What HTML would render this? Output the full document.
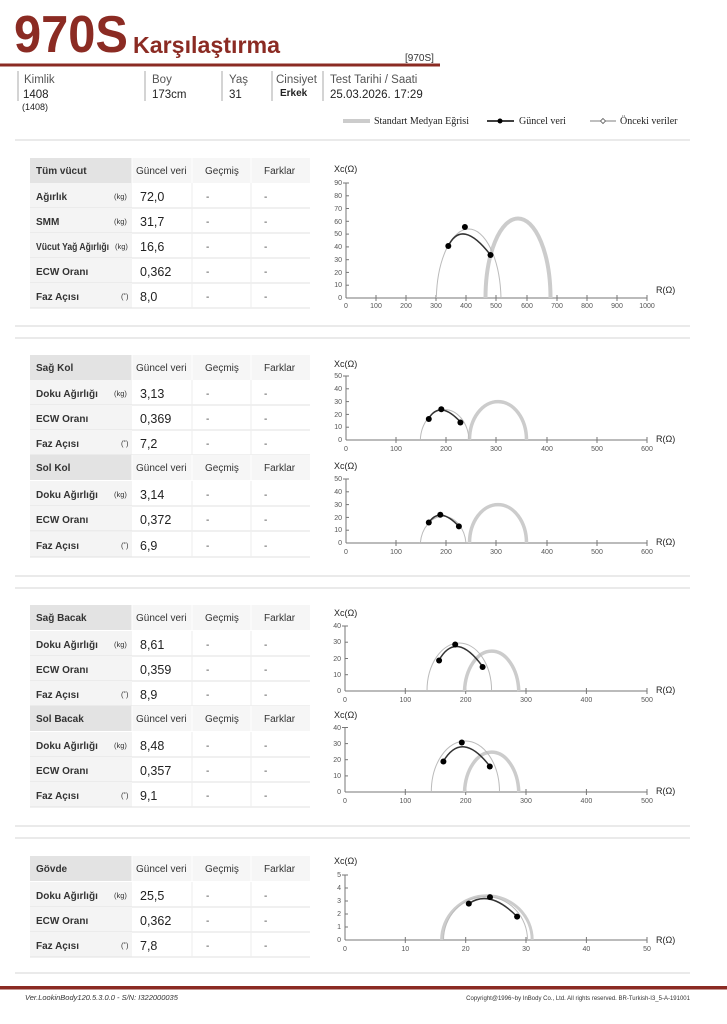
<!DOCTYPE html>
<html><head><meta charset="utf-8"><style>
html,body{margin:0;padding:0;background:#fff}
svg{display:block;font-family:"Liberation Sans",sans-serif}
.lb{font-size:10px;font-weight:bold;fill:#333}
.hd{font-size:10px;fill:#333}
.un{font-size:7.5px;fill:#333}
.vl{font-size:12.5px;fill:#222}
.ds{font-size:10px;fill:#444}
.tk{font-size:7px;fill:#555}
.ax{font-size:9px;fill:#222}
</style></head><body>
<svg width="727" height="1024" viewBox="0 0 727 1024" xmlns="http://www.w3.org/2000/svg">
<defs>
<g id="hdr">
<rect x="30" y="0" width="102" height="25" fill="#e3e3e3"/>
<rect x="132" y="0" width="178" height="25" fill="#f6f6f6"/>
<line x1="132" y1="0" x2="132" y2="25" stroke="#fff"/>
<line x1="192" y1="0" x2="192" y2="25" stroke="#fff"/>
<line x1="251" y1="0" x2="251" y2="25" stroke="#fff"/>
<text x="136" y="16" class="hd">Güncel veri</text>
<text x="205" y="16" class="hd">Geçmiş</text>
<text x="264" y="16" class="hd">Farklar</text>
</g>
<g id="row">
<rect x="30" y="0" width="102" height="25" fill="#f4f4f4"/>
<line x1="30" y1="25" x2="310" y2="25" stroke="#e2e2e2"/>
<line x1="192" y1="0" x2="192" y2="25" stroke="#eee"/>
<line x1="251" y1="0" x2="251" y2="25" stroke="#eee"/>
<text x="206" y="17" class="ds">-</text>
<text x="264" y="17" class="ds">-</text>
</g>
</defs>

<!-- header -->
<text x="14" y="52" font-size="52" font-weight="bold" fill="#8b2b23" textLength="114" lengthAdjust="spacingAndGlyphs">970S</text>
<text x="133" y="53" font-size="23" font-weight="bold" fill="#8b2b23" textLength="147" lengthAdjust="spacingAndGlyphs">Karşılaştırma</text>
<text x="405" y="61" font-size="10" fill="#333">[970S]</text>
<rect x="0" y="63.5" width="440" height="3" fill="#8b2b23"/>
<g stroke="#aaa" stroke-width="1">
<line x1="18" y1="71" x2="18" y2="101"/><line x1="145" y1="71" x2="145" y2="101"/>
<line x1="222" y1="71" x2="222" y2="101"/><line x1="272" y1="71" x2="272" y2="101"/>
<line x1="323" y1="71" x2="323" y2="101"/>
</g>
<g font-size="11.5" fill="#555">
<text x="24" y="83">Kimlik</text><text x="152" y="83">Boy</text><text x="229" y="83">Yaş</text>
<text x="276" y="83">Cinsiyet</text><text x="330" y="83">Test Tarihi / Saati</text>
</g>
<g font-size="11.5" fill="#222">
<text x="23" y="98">1408</text><text x="152" y="98">173cm</text><text x="229" y="98">31</text>
<text x="330" y="98">25.03.2026. 17:29</text>
</g>
<text x="280" y="96" font-size="10" font-weight="bold" fill="#222">Erkek</text>
<text x="22" y="110" font-size="9" fill="#222">(1408)</text>
<!-- legend -->
<line x1="343" y1="121" x2="370" y2="121" stroke="#ccc" stroke-width="4"/>
<text x="374" y="124" font-family="Liberation Serif" font-size="10" fill="#222">Standart Medyan Eğrisi</text>
<line x1="487" y1="121" x2="514" y2="121" stroke="#000" stroke-width="1.5"/>
<circle cx="500" cy="121" r="2.5" fill="#000"/>
<text x="519" y="124" font-family="Liberation Serif" font-size="10" fill="#222">Güncel veri</text>
<line x1="590" y1="121" x2="616" y2="121" stroke="#555" stroke-width="0.8"/>
<path d="M603,118.5 L605.5,121 L603,123.5 L600.5,121Z" fill="#fff" stroke="#555" stroke-width="0.8"/>
<text x="620" y="124" font-family="Liberation Serif" font-size="10" fill="#222">Önceki veriler</text>

<g stroke="#d6d6d6" stroke-width="1">
<line x1="15" y1="140" x2="690" y2="140"/>
<line x1="15" y1="326" x2="690" y2="326"/><line x1="15" y1="338" x2="690" y2="338"/>
<line x1="15" y1="576" x2="690" y2="576"/><line x1="15" y1="588" x2="690" y2="588"/>
<line x1="15" y1="826" x2="690" y2="826"/><line x1="15" y1="838" x2="690" y2="838"/>
<line x1="15" y1="973" x2="690" y2="973"/>
</g>
<rect x="0" y="986" width="727" height="3.5" fill="#8b2b23"/>
<text x="25" y="1000" font-size="7.5" font-style="italic" fill="#333">Ver.LookinBody120.5.3.0.0 - S/N: I322000035</text>
<text x="690" y="1000" font-size="6" fill="#333" text-anchor="end">Copyright@1996~by InBody Co., Ltd. All rights reserved. BR-Turkish-I3_5-A-191001</text>

<!-- TABLE 1 -->
<use href="#hdr" y="158"/><text x="36" y="174" class="lb">Tüm vücut</text>
<use href="#row" y="183"/><text x="36" y="200" class="lb">Ağırlık</text><text x="114" y="199" class="un">(kg)</text><text x="140" y="201" class="vl">72,0</text>
<use href="#row" y="208"/><text x="36" y="225" class="lb">SMM</text><text x="114" y="224" class="un">(kg)</text><text x="140" y="226" class="vl">31,7</text>
<use href="#row" y="233"/><text x="36" y="250" class="lb" textLength="73" lengthAdjust="spacingAndGlyphs">Vücut Yağ Ağırlığı</text><text x="115" y="249" class="un">(kg)</text><text x="140" y="251" class="vl">16,6</text>
<use href="#row" y="258"/><text x="36" y="275" class="lb">ECW Oranı</text><text x="140" y="276" class="vl">0,362</text>
<use href="#row" y="283"/><text x="36" y="300" class="lb">Faz Açısı</text><text x="121" y="299" class="un">(˚)</text><text x="140" y="301" class="vl">8,0</text>

<!-- TABLE arms -->
<use href="#hdr" y="355"/><text x="36" y="371" class="lb">Sağ Kol</text>
<use href="#row" y="380"/><text x="36" y="397" class="lb">Doku Ağırlığı</text><text x="114" y="396" class="un">(kg)</text><text x="140" y="398" class="vl">3,13</text>
<use href="#row" y="405"/><text x="36" y="422" class="lb">ECW Oranı</text><text x="140" y="423" class="vl">0,369</text>
<use href="#row" y="430"/><text x="36" y="447" class="lb">Faz Açısı</text><text x="121" y="446" class="un">(˚)</text><text x="140" y="448" class="vl">7,2</text>
<use href="#hdr" y="455"/><text x="36" y="471" class="lb">Sol Kol</text>
<use href="#row" y="481"/><text x="36" y="498" class="lb">Doku Ağırlığı</text><text x="114" y="497" class="un">(kg)</text><text x="140" y="499" class="vl">3,14</text>
<use href="#row" y="506"/><text x="36" y="523" class="lb">ECW Oranı</text><text x="140" y="524" class="vl">0,372</text>
<use href="#row" y="532"/><text x="36" y="549" class="lb">Faz Açısı</text><text x="121" y="548" class="un">(˚)</text><text x="140" y="550" class="vl">6,9</text>

<!-- TABLE legs -->
<use href="#hdr" y="605"/><text x="36" y="621" class="lb">Sağ Bacak</text>
<use href="#row" y="631"/><text x="36" y="648" class="lb">Doku Ağırlığı</text><text x="114" y="647" class="un">(kg)</text><text x="140" y="649" class="vl">8,61</text>
<use href="#row" y="656"/><text x="36" y="673" class="lb">ECW Oranı</text><text x="140" y="674" class="vl">0,359</text>
<use href="#row" y="681"/><text x="36" y="698" class="lb">Faz Açısı</text><text x="121" y="697" class="un">(˚)</text><text x="140" y="699" class="vl">8,9</text>
<use href="#hdr" y="706"/><text x="36" y="722" class="lb">Sol Bacak</text>
<use href="#row" y="732"/><text x="36" y="749" class="lb">Doku Ağırlığı</text><text x="114" y="748" class="un">(kg)</text><text x="140" y="750" class="vl">8,48</text>
<use href="#row" y="757"/><text x="36" y="774" class="lb">ECW Oranı</text><text x="140" y="775" class="vl">0,357</text>
<use href="#row" y="782"/><text x="36" y="799" class="lb">Faz Açısı</text><text x="121" y="798" class="un">(˚)</text><text x="140" y="800" class="vl">9,1</text>

<!-- TABLE trunk -->
<use href="#hdr" y="856"/><text x="36" y="872" class="lb">Gövde</text>
<use href="#row" y="882"/><text x="36" y="899" class="lb">Doku Ağırlığı</text><text x="114" y="898" class="un">(kg)</text><text x="140" y="900" class="vl">25,5</text>
<use href="#row" y="907"/><text x="36" y="924" class="lb">ECW Oranı</text><text x="140" y="925" class="vl">0,362</text>
<use href="#row" y="932"/><text x="36" y="949" class="lb">Faz Açısı</text><text x="121" y="948" class="un">(˚)</text><text x="140" y="950" class="vl">7,8</text>

<!-- CHART 1 -->
<g>
<text x="334" y="172" class="ax">Xc(Ω)</text>
<text x="656" y="293" class="ax">R(Ω)</text>
<line x1="346" y1="183" x2="346" y2="298" stroke="#777"/>
<line x1="346" y1="298" x2="647" y2="298" stroke="#777"/>
<g stroke="#777">
<line x1="346" y1="285.2" x2="349" y2="285.2"/><line x1="346" y1="272.4" x2="349" y2="272.4"/><line x1="346" y1="259.7" x2="349" y2="259.7"/><line x1="346" y1="246.9" x2="349" y2="246.9"/><line x1="346" y1="234.1" x2="349" y2="234.1"/><line x1="346" y1="221.3" x2="349" y2="221.3"/><line x1="346" y1="208.5" x2="349" y2="208.5"/><line x1="346" y1="195.8" x2="349" y2="195.8"/><line x1="343" y1="183" x2="349" y2="183"/>
<line x1="376" y1="295" x2="376" y2="301"/><line x1="406" y1="295" x2="406" y2="301"/><line x1="436" y1="295" x2="436" y2="301"/><line x1="466" y1="295" x2="466" y2="301"/><line x1="496" y1="295" x2="496" y2="301"/><line x1="527" y1="295" x2="527" y2="301"/><line x1="557" y1="295" x2="557" y2="301"/><line x1="587" y1="295" x2="587" y2="301"/><line x1="617" y1="295" x2="617" y2="301"/><line x1="647" y1="295" x2="647" y2="301"/>
</g>
<g class="tk" text-anchor="end">
<text x="342" y="300">0</text><text x="342" y="287">10</text><text x="342" y="275">20</text><text x="342" y="262">30</text><text x="342" y="249">40</text><text x="342" y="236">50</text><text x="342" y="224">60</text><text x="342" y="211">70</text><text x="342" y="198">80</text><text x="342" y="185">90</text>
</g>
<g class="tk" text-anchor="middle">
<text x="346" y="308">0</text><text x="376" y="308">100</text><text x="406" y="308">200</text><text x="436" y="308">300</text><text x="466" y="308">400</text><text x="496" y="308">500</text><text x="527" y="308">600</text><text x="557" y="308">700</text><text x="587" y="308">800</text><text x="617" y="308">900</text><text x="647" y="308">1000</text>
</g>
<path d="M485.5,298 A32.5,79.5 0 0 1 550.5,298" fill="none" stroke="#ccc" stroke-width="4"/>
<path d="M436.3,298 A32.4,73 0 0 1 501,298" fill="none" stroke="#bbb" stroke-width="1"/>
<path d="M448.3,246 Q462,218 490.5,255" fill="none" stroke="#333" stroke-width="1.5"/>
<circle cx="448.3" cy="246" r="3" fill="#000"/><circle cx="464.9" cy="227" r="3" fill="#000"/><circle cx="490.5" cy="255" r="3" fill="#000"/>
</g>

<!-- CHART Sağ Kol -->
<g>
<text x="334" y="367" class="ax">Xc(Ω)</text>
<text x="656" y="442" class="ax">R(Ω)</text>
<line x1="346" y1="376" x2="346" y2="440" stroke="#777"/>
<line x1="346" y1="440" x2="647" y2="440" stroke="#777"/>
<g stroke="#777">
<line x1="343" y1="376" x2="349" y2="376"/><line x1="346" y1="388.8" x2="349" y2="388.8"/><line x1="346" y1="401.6" x2="349" y2="401.6"/><line x1="346" y1="414.4" x2="349" y2="414.4"/><line x1="346" y1="427.2" x2="349" y2="427.2"/>
<line x1="396" y1="437" x2="396" y2="443"/><line x1="446" y1="437" x2="446" y2="443"/><line x1="496" y1="437" x2="496" y2="443"/><line x1="547" y1="437" x2="547" y2="443"/><line x1="597" y1="437" x2="597" y2="443"/><line x1="647" y1="437" x2="647" y2="443"/>
</g>
<g class="tk" text-anchor="end">
<text x="342" y="442">0</text><text x="342" y="429">10</text><text x="342" y="417">20</text><text x="342" y="404">30</text><text x="342" y="391">40</text><text x="342" y="378">50</text>
</g>
<g class="tk" text-anchor="middle">
<text x="346" y="451">0</text><text x="396" y="451">100</text><text x="446" y="451">200</text><text x="496" y="451">300</text><text x="547" y="451">400</text><text x="597" y="451">500</text><text x="647" y="451">600</text>
</g>
<path d="M469.5,440 A28.5,38.4 0 0 1 526.5,440" fill="none" stroke="#ccc" stroke-width="3.5"/>
<path d="M420.3,440 A24.4,32.5 0 0 1 469,440" fill="none" stroke="#bbb" stroke-width="1"/>
<path d="M428.8,418.2 Q440,400 460.4,422" fill="none" stroke="#333" stroke-width="1.5"/>
<circle cx="428.8" cy="419" r="3" fill="#000"/><circle cx="441.3" cy="409.3" r="3" fill="#000"/><circle cx="460.4" cy="422.5" r="3" fill="#000"/>
</g>

<!-- CHART Sol Kol -->
<g>
<text x="334" y="469" class="ax">Xc(Ω)</text>
<text x="656" y="545" class="ax">R(Ω)</text>
<line x1="346" y1="479" x2="346" y2="543" stroke="#777"/>
<line x1="346" y1="543" x2="647" y2="543" stroke="#777"/>
<g stroke="#777">
<line x1="343" y1="479" x2="349" y2="479"/><line x1="346" y1="491.8" x2="349" y2="491.8"/><line x1="346" y1="504.6" x2="349" y2="504.6"/><line x1="346" y1="517.4" x2="349" y2="517.4"/><line x1="346" y1="530.2" x2="349" y2="530.2"/>
<line x1="396" y1="540" x2="396" y2="546"/><line x1="446" y1="540" x2="446" y2="546"/><line x1="496" y1="540" x2="496" y2="546"/><line x1="547" y1="540" x2="547" y2="546"/><line x1="597" y1="540" x2="597" y2="546"/><line x1="647" y1="540" x2="647" y2="546"/>
</g>
<g class="tk" text-anchor="end">
<text x="342" y="545">0</text><text x="342" y="532">10</text><text x="342" y="520">20</text><text x="342" y="507">30</text><text x="342" y="494">40</text><text x="342" y="481">50</text>
</g>
<g class="tk" text-anchor="middle">
<text x="346" y="554">0</text><text x="396" y="554">100</text><text x="446" y="554">200</text><text x="496" y="554">300</text><text x="547" y="554">400</text><text x="597" y="554">500</text><text x="647" y="554">600</text>
</g>
<path d="M469.5,543 A28.5,38.4 0 0 1 526.5,543" fill="none" stroke="#ccc" stroke-width="3.5"/>
<path d="M420.3,543 A23,30 0 0 1 466,543" fill="none" stroke="#bbb" stroke-width="1"/>
<path d="M428.8,522.5 Q440,506 458.9,526.4" fill="none" stroke="#333" stroke-width="1.5"/>
<circle cx="428.8" cy="522.5" r="3" fill="#000"/><circle cx="440.3" cy="514.8" r="3" fill="#000"/><circle cx="458.9" cy="526.4" r="3" fill="#000"/>
</g>

<!-- CHART Sağ Bacak -->
<g>
<text x="334" y="616" class="ax">Xc(Ω)</text>
<text x="656" y="693" class="ax">R(Ω)</text>
<line x1="345" y1="626" x2="345" y2="691" stroke="#777"/>
<line x1="345" y1="691" x2="647" y2="691" stroke="#777"/>
<g stroke="#777">
<line x1="342" y1="626" x2="348" y2="626"/><line x1="345" y1="642.2" x2="348" y2="642.2"/><line x1="345" y1="658.5" x2="348" y2="658.5"/><line x1="345" y1="674.7" x2="348" y2="674.7"/>
<line x1="405.3" y1="688" x2="405.3" y2="694"/><line x1="465.7" y1="688" x2="465.7" y2="694"/><line x1="526" y1="688" x2="526" y2="694"/><line x1="586.4" y1="688" x2="586.4" y2="694"/><line x1="647" y1="688" x2="647" y2="694"/>
</g>
<g class="tk" text-anchor="end">
<text x="341" y="693">0</text><text x="341" y="677">10</text><text x="341" y="661">20</text><text x="341" y="644">30</text><text x="341" y="628">40</text>
</g>
<g class="tk" text-anchor="middle">
<text x="345" y="702">0</text><text x="405.3" y="702">100</text><text x="465.7" y="702">200</text><text x="526" y="702">300</text><text x="586.4" y="702">400</text><text x="647" y="702">500</text>
</g>
<path d="M464.5,691 A27.2,42.4 0 0 1 518.8,691" fill="none" stroke="#ccc" stroke-width="3.5"/>
<path d="M427,691 A32.3,48 0 0 1 491.6,691" fill="none" stroke="#bbb" stroke-width="1"/>
<path d="M439.1,660 Q456,630 482.6,666.5" fill="none" stroke="#333" stroke-width="1.5"/>
<circle cx="439.1" cy="660.5" r="3" fill="#000"/><circle cx="455.2" cy="644.5" r="3" fill="#000"/><circle cx="482.6" cy="667" r="3" fill="#000"/>
</g>

<!-- CHART Sol Bacak -->
<g>
<text x="334" y="718" class="ax">Xc(Ω)</text>
<text x="656" y="794" class="ax">R(Ω)</text>
<line x1="345" y1="727.5" x2="345" y2="792" stroke="#777"/>
<line x1="345" y1="792" x2="647" y2="792" stroke="#777"/>
<g stroke="#777">
<line x1="342" y1="727.5" x2="348" y2="727.5"/><line x1="345" y1="743.6" x2="348" y2="743.6"/><line x1="345" y1="759.7" x2="348" y2="759.7"/><line x1="345" y1="775.9" x2="348" y2="775.9"/>
<line x1="405.3" y1="789" x2="405.3" y2="795"/><line x1="465.7" y1="789" x2="465.7" y2="795"/><line x1="526" y1="789" x2="526" y2="795"/><line x1="586.4" y1="789" x2="586.4" y2="795"/><line x1="647" y1="789" x2="647" y2="795"/>
</g>
<g class="tk" text-anchor="end">
<text x="341" y="794">0</text><text x="341" y="778">10</text><text x="341" y="762">20</text><text x="341" y="746">30</text><text x="341" y="730">40</text>
</g>
<g class="tk" text-anchor="middle">
<text x="345" y="803">0</text><text x="405.3" y="803">100</text><text x="465.7" y="803">200</text><text x="526" y="803">300</text><text x="586.4" y="803">400</text><text x="647" y="803">500</text>
</g>
<path d="M464.5,792 A27.2,42.4 0 0 1 518.8,792" fill="none" stroke="#ccc" stroke-width="3.5"/>
<path d="M431.3,792 A34.1,51 0 0 1 499.5,792" fill="none" stroke="#bbb" stroke-width="1"/>
<path d="M443.4,761.3 Q462,730 489.8,766.2" fill="none" stroke="#333" stroke-width="1.5"/>
<circle cx="443.4" cy="761.5" r="3" fill="#000"/><circle cx="461.8" cy="742.5" r="3" fill="#000"/><circle cx="489.8" cy="766.5" r="3" fill="#000"/>
</g>

<!-- CHART Gövde -->
<g>
<text x="334" y="864" class="ax">Xc(Ω)</text>
<text x="656" y="943" class="ax">R(Ω)</text>
<line x1="345" y1="875" x2="345" y2="940" stroke="#777"/>
<line x1="345" y1="940" x2="647" y2="940" stroke="#777"/>
<g stroke="#777">
<line x1="342" y1="875" x2="348" y2="875"/><line x1="345" y1="888" x2="348" y2="888"/><line x1="345" y1="901" x2="348" y2="901"/><line x1="345" y1="914" x2="348" y2="914"/><line x1="345" y1="927" x2="348" y2="927"/>
<line x1="405.3" y1="937" x2="405.3" y2="943"/><line x1="465.7" y1="937" x2="465.7" y2="943"/><line x1="526" y1="937" x2="526" y2="943"/><line x1="586.4" y1="937" x2="586.4" y2="943"/><line x1="647" y1="937" x2="647" y2="943"/>
</g>
<g class="tk" text-anchor="end">
<text x="341" y="942">0</text><text x="341" y="929">1</text><text x="341" y="916">2</text><text x="341" y="903">3</text><text x="341" y="890">4</text><text x="341" y="877">5</text>
</g>
<g class="tk" text-anchor="middle">
<text x="345" y="951">0</text><text x="405.3" y="951">10</text><text x="465.7" y="951">20</text><text x="526" y="951">30</text><text x="586.4" y="951">40</text><text x="647" y="951">50</text>
</g>
<path d="M441.6,940 A45.3,44.2 0 0 1 532.2,940" fill="none" stroke="#ccc" stroke-width="3"/>
<path d="M443.5,940 A42,43.5 0 0 1 527.5,940" fill="none" stroke="#bbb" stroke-width="1"/>
<path d="M468.8,903.6 Q490,889 517.1,916.6" fill="none" stroke="#333" stroke-width="1.5"/>
<circle cx="468.8" cy="903.6" r="3" fill="#000"/><circle cx="490" cy="897.1" r="3" fill="#000"/><circle cx="517.1" cy="916.6" r="3" fill="#000"/>
</g>
</svg>
</body></html>
